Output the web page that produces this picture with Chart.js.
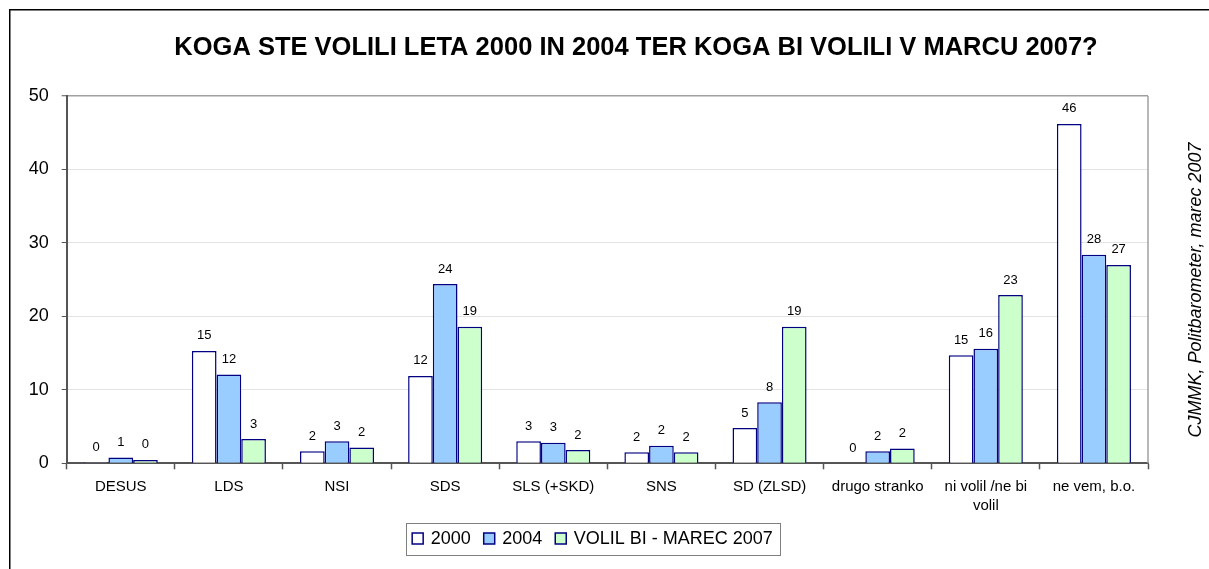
<!DOCTYPE html>
<html>
<head>
<meta charset="utf-8">
<script src="https://cdn.jsdelivr.net/npm/chart.js@4.4.1/dist/chart.umd.min.js"></script>
<style>
  html, body { margin: 0; padding: 0; background: #fff; }
  #wrap { width: 1209px; height: 569px; position: relative; }
</style>
</head>
<body>
<div id="wrap"><canvas id="c" width="1209" height="569"></canvas></div>
<script>
// ---- data ----
const categories = ['DESUS', 'LDS', 'NSI', 'SDS', 'SLS (+SKD)', 'SNS', 'SD (ZLSD)', 'drugo stranko', ['ni volil /ne bi', 'volil'], 'ne vem, b.o.'];
const seriesNames = ['2000', '2004', 'VOLIL BI - MAREC 2007'];
const values2000 = [0.15, 15.3, 1.65, 11.9, 3.0, 1.5, 4.8, 0, 14.7, 46.2];
const values2004 = [0.8, 12.1, 3.0, 24.4, 2.8, 2.4, 8.3, 1.65, 15.6, 28.4];
const values2007 = [0.45, 3.3, 2.15, 18.6, 1.8, 1.5, 18.6, 2.0, 22.9, 27.0];
const yTicks = [0, 10, 20, 30, 40, 50];
const titleText = 'KOGA STE VOLILI LETA 2000 IN 2004 TER KOGA BI VOLILI V MARCU 2007?';
const sourceText = 'CJMMK, Politbarometer, marec 2007';

const fills = ['#FFFFFF', '#99CCFF', '#CCFFCC'];
const edge = '#000080';
const FONT = '"Liberation Sans", Arial, Helvetica, sans-serif';

const chromePlugin = {
  id: 'chrome',
  beforeDraw(chart) {
    const ctx = chart.ctx;
    ctx.save();
    ctx.fillStyle = '#fff';
    ctx.fillRect(0, 0, chart.width, chart.height);
    ctx.restore();
  },
  afterDatasetsDraw(chart) {
    const ctx = chart.ctx;
    ctx.save();
    ctx.font = '13px ' + FONT;
    ctx.fillStyle = '#000';
    ctx.textAlign = 'center';
    ctx.textBaseline = 'alphabetic';
    chart.data.datasets.forEach((ds, i) => {
      const meta = chart.getDatasetMeta(i);
      meta.data.forEach((bar, j) => {
        const v = ds.data[j];
        ctx.fillText(String(Math.round(v)), bar.x, bar.y - 11.5);
      });
    });
    ctx.restore();
  },
  afterDraw(chart) {
    const ctx = chart.ctx;
    const a = chart.chartArea;
    ctx.save();
    // plot area right border
    ctx.strokeStyle = '#a0a0a0';
    ctx.lineWidth = 1.5;
    ctx.beginPath();
    ctx.moveTo(a.right, a.top);
    ctx.lineTo(a.right, a.bottom);
    ctx.stroke();
    // outer frame
    ctx.strokeStyle = '#000';
    ctx.lineWidth = 1.5;
    ctx.beginPath();
    ctx.moveTo(9.75, chart.height);
    ctx.lineTo(9.75, 9.75);
    ctx.lineTo(chart.width, 9.75);
    ctx.stroke();
    // title
    ctx.fillStyle = '#000';
    ctx.font = 'bold 25.5px ' + FONT;
    ctx.textAlign = 'center';
    ctx.textBaseline = 'middle';
    ctx.fillText(titleText, 636, 48);
    // rotated source text
    ctx.save();
    ctx.translate(1196, 290);
    ctx.rotate(-Math.PI / 2);
    ctx.font = 'italic 18px ' + FONT;
    ctx.textAlign = 'center';
    ctx.textBaseline = 'middle';
    ctx.fillText(sourceText, 0, 0);
    ctx.restore();
    // legend
    ctx.font = '18px ' + FONT;
    const box = 11, gapText = 7.5, gapItem = 13, pad = 6.5;
    const widths = chart.data.datasets.map(d => ctx.measureText(d.label).width);
    let total = pad * 2;
    widths.forEach((w, i) => { total += box + gapText + w + (i ? gapItem : 0); });
    const cx = 592.5, cy = 538.5, h = 31.5;
    const left = cx - total / 2;
    ctx.strokeStyle = '#808080';
    ctx.lineWidth = 1;
    ctx.strokeRect(Math.round(left) + 0.5, Math.round(cy - h / 2) + 0.5, Math.round(total), Math.round(h));
    let x = left + pad;
    ctx.textAlign = 'left';
    ctx.textBaseline = 'middle';
    chart.data.datasets.forEach((d, i) => {
      if (i) x += gapItem;
      ctx.fillStyle = d.backgroundColor;
      ctx.fillRect(x, cy - box / 2, box, box);
      ctx.strokeStyle = d.borderColor;
      ctx.lineWidth = 1.5;
      ctx.strokeRect(x, cy - box / 2, box, box);
      x += box + gapText;
      ctx.fillStyle = '#000';
      ctx.fillText(d.label, x, cy + 1);
      x += widths[i];
    });
    ctx.restore();
  }
};

const mk = (i, data) => ({
  label: seriesNames[i],
  data: data,
  backgroundColor: fills[i],
  borderColor: edge,
  borderWidth: 1.5,
  borderSkipped: 'start',
  categoryPercentage: 0.685,
  barPercentage: 1.0
});

new Chart(document.getElementById('c'), {
  type: 'bar',
  data: {
    labels: categories,
    datasets: [mk(0, values2000), mk(1, values2004), mk(2, values2007)]
  },
  options: {
    responsive: false,
    animation: false,
    devicePixelRatio: 1,
    layout: { padding: { top: 96, left: 0, right: 61, bottom: 55.7 } },
    plugins: {
      legend: { display: false },
      title: { display: false },
      tooltip: { enabled: false }
    },
    scales: {
      x: {
        afterFit(s) { s.height = 50; },
        grid: {
          offset: true,
          drawOnChartArea: false,
          drawTicks: true,
          tickLength: 6,
          tickColor: '#555',
          tickWidth: 1.5
        },
        border: { color: '#555', width: 2 },
        ticks: {
          color: '#000',
          font: { family: FONT, size: 15, lineHeight: 1.25 },
          padding: 8,
          maxRotation: 0,
          autoSkip: false
        }
      },
      y: {
        min: 0,
        max: 50,
        afterFit(s) { s.width = 66.7; },
        afterBuildTicks(s) { s.ticks = yTicks.map(v => ({ value: v })); },
        grid: {
          color: (c) => c.tick && c.tick.value === 50 ? '#a0a0a0' : (c.tick && c.tick.value === 0 ? 'rgba(0,0,0,0)' : '#e3e3e3'),
          lineWidth: (c) => c.tick && c.tick.value === 50 ? 1.5 : 1,
          tickLength: 5,
          tickColor: '#555',
          tickWidth: 1
        },
        border: { color: '#555', width: 2 },
        ticks: {
          color: '#000',
          font: { family: FONT, size: 18 },
          padding: 13
        }
      }
    }
  },
  plugins: [chromePlugin]
});
</script>
</body>
</html>
